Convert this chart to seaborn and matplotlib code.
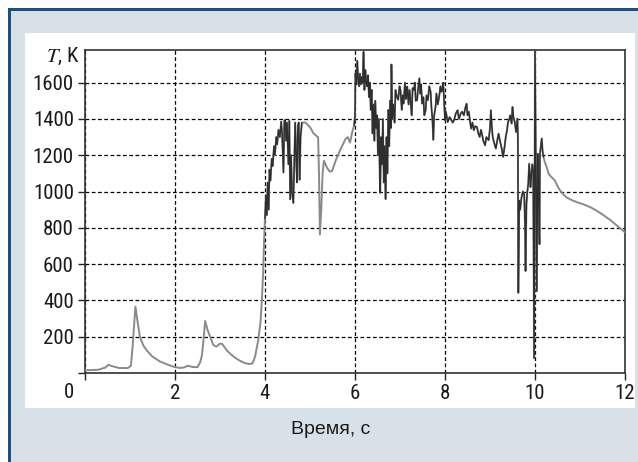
import matplotlib
matplotlib.use("Agg")
import matplotlib.pyplot as plt
import seaborn as sns
import pandas as pd
from matplotlib.patches import Rectangle

# ---- data ----
time_s = [
    0.00, 0.30, 0.45, 0.52, 0.60, 0.75, 0.95, 1.02, 1.06, 1.12, 1.17, 1.22, 1.30, 1.37, 1.50, 1.67, 1.85, 1.96,
    2.10, 2.20, 2.28, 2.40, 2.50, 2.56, 2.60, 2.64, 2.67, 2.72, 2.78, 2.85, 2.92, 3.00, 3.05, 3.15, 3.22, 3.33,
    3.44, 3.55, 3.63, 3.72, 3.78, 3.85, 3.90, 3.93, 3.96, 3.98,
    4.00, 4.02, 4.04, 4.06, 4.08, 4.10, 4.12, 4.15, 4.17, 4.20, 4.22, 4.25, 4.27, 4.30, 4.33, 4.36, 4.38, 4.41,
    4.43, 4.45, 4.47, 4.49, 4.52, 4.54, 4.56, 4.58, 4.60, 4.63, 4.65, 4.67, 4.69, 4.71, 4.73, 4.75, 4.77, 4.79,
    4.82, 4.90, 5.00, 5.08, 5.15, 5.18, 5.20, 5.22, 5.25, 5.28, 5.31, 5.38, 5.44, 5.49, 5.57, 5.62, 5.68, 5.73,
    5.79, 5.84, 5.89, 5.94, 5.98,
    6.00, 6.01, 6.03, 6.05, 6.07, 6.09, 6.11, 6.13, 6.15, 6.17, 6.19, 6.21, 6.23, 6.25, 6.27, 6.29, 6.31, 6.33,
    6.35, 6.37, 6.39, 6.41, 6.43, 6.45, 6.47, 6.49, 6.51, 6.53, 6.55, 6.56, 6.58, 6.60, 6.62, 6.64, 6.66, 6.68,
    6.70, 6.72, 6.74, 6.76, 6.78, 6.80, 6.81, 6.83, 6.85, 6.88, 6.90, 6.93, 6.96, 6.99, 7.01, 7.04, 7.06, 7.08,
    7.11, 7.13, 7.15, 7.16, 7.19, 7.21, 7.23, 7.26, 7.28, 7.31, 7.33, 7.35, 7.38, 7.40, 7.43, 7.45, 7.47, 7.49,
    7.52, 7.54, 7.57, 7.59, 7.62, 7.65, 7.68, 7.70, 7.72, 7.74, 7.76, 7.79, 7.81, 7.84, 7.87, 7.90, 7.92, 7.94,
    7.96, 7.98, 8.00,
    8.02, 8.06, 8.10, 8.13, 8.17, 8.20, 8.24, 8.28, 8.31, 8.35, 8.38, 8.42, 8.45, 8.48, 8.50, 8.53, 8.56, 8.58,
    8.61, 8.64, 8.67, 8.71, 8.74, 8.77, 8.80, 8.82, 8.85, 8.89, 8.92, 8.97, 9.00, 9.02, 9.04, 9.06, 9.09, 9.13,
    9.16, 9.19, 9.22, 9.26, 9.29, 9.32, 9.35, 9.38, 9.40, 9.43, 9.45, 9.48, 9.50, 9.52, 9.55, 9.58, 9.61, 9.62,
    9.63, 9.65, 9.67, 9.70, 9.73, 9.76, 9.78, 9.79, 9.81, 9.83, 9.85, 9.87, 9.90, 9.92, 9.94, 9.96, 9.98,
    10.00, 10.02, 10.04, 10.06, 10.08, 10.10, 10.11, 10.13, 10.15, 10.17, 10.19, 10.22, 10.26, 10.30, 10.33,
    10.37, 10.44, 10.50, 10.56, 10.63, 10.70, 10.80, 10.93, 11.05, 11.15, 11.26, 11.37, 11.48, 11.59, 11.69,
    11.78, 11.87, 11.96, 12.00,
]
temp_K = [
    15, 18, 30, 45, 38, 28, 27, 40, 150, 366, 280, 200, 150, 125, 90, 63, 45, 35,
    28, 30, 40, 33, 32, 60, 100, 200, 287, 240, 200, 155, 145, 162, 160, 125, 108, 85,
    68, 55, 50, 52, 90, 182, 280, 400, 560, 734,
    850, 980, 870, 1050, 900, 1120, 1060, 1180, 1140, 1250, 1200, 1300, 1260, 1340, 1300, 1385, 1320, 1105,
    1390, 1395, 1280, 1380, 1150, 1390, 957, 1200, 1000, 937, 1150, 1380, 1200, 1050, 1360, 1380, 1065, 1300,
    1380, 1380, 1355, 1320, 1305, 1300, 1100, 764, 900, 1100, 1170, 1130, 1110, 1113, 1170, 1200, 1234, 1260,
    1290, 1300, 1270, 1330, 1363,
    1420, 1650, 1590, 1720, 1620, 1580, 1650, 1590, 1630, 1600, 1770, 1560, 1670, 1600, 1580, 1640, 1520, 1600,
    1450, 1560, 1320, 1480, 1280, 1500, 1350, 1420, 1200, 1400, 1100, 993, 1300, 1150, 1400, 1050, 1250, 958,
    1300, 1100, 1450, 1250, 1500, 1350, 1700, 1400, 1480, 1380, 1560, 1522, 1506, 1580, 1560, 1450, 1530, 1485,
    1600, 1510, 1535, 1578, 1480, 1560, 1513, 1420, 1570, 1560, 1600, 1500, 1504, 1560, 1624, 1540, 1590, 1485,
    1520, 1420, 1448, 1530, 1504, 1580, 1550, 1460, 1400, 1285, 1420, 1467, 1540, 1480, 1522, 1580, 1550, 1560,
    1600, 1500, 1393,
    1440, 1383, 1410, 1400, 1380, 1393, 1430, 1448, 1400, 1430, 1440, 1420, 1460, 1484, 1420, 1440, 1380, 1347,
    1380, 1338, 1360, 1356, 1320, 1301, 1340, 1319, 1280, 1255, 1300, 1283, 1350, 1448, 1360, 1301, 1270, 1237,
    1280, 1319, 1282, 1237, 1191, 1240, 1301, 1340, 1383, 1400, 1420, 1375, 1466, 1412, 1383, 1328, 1402, 1300,
    442, 950, 900, 968, 1000, 987, 800, 562, 932, 1000, 1042, 1153, 1024, 1098, 1150, 1116, 82,
    1781, 1100, 451, 1208, 1000, 710, 1208, 1250, 1292, 1220, 1190, 1160, 1135, 1100, 1089,
    1079, 1061, 1030, 1005, 985, 968, 955, 941, 932, 922, 910, 894, 877, 858, 840,
    821, 802, 784, 775,
]
x_ticks = [0, 2, 4, 6, 8, 10, 12]
x_tick_labels = ["", "2", "4", "6", "8", "10", "12"]
corner_label = "0"
y_ticks = [0, 200, 400, 600, 800, 1000, 1200, 1400, 1600]
y_tick_labels = ["", "200", "400", "600", "800", "1000", "1200", "1400", "1600"]
x_label = "Время, с"
y_label = r"$T$, K"
noisy_spans = [(4.0, 4.82), (5.98, 10.2)]

df = pd.DataFrame({"t": time_s, "T": temp_K})

# ---- style ----
sns.set_theme(style="white")
NARROW = ["Roboto Condensed", "PT Sans Narrow", "DejaVu Sans"]
plt.rcParams["font.family"] = NARROW
plt.rcParams["mathtext.fontset"] = "stix"

W, H = 638, 462
BG = "#d8e0e8"
TXT = "#1a1a1a"
fig = plt.figure(figsize=(W / 100, H / 100), dpi=100, facecolor=BG)


def box(x0, y0, x1, y1):
    return (x0 / W, 1 - y1 / H), (x1 - x0) / W, (y1 - y0) / H


def add_rect(x0, y0, x1, y1, color, z):
    xy, w, h = box(x0, y0, x1, y1)
    fig.add_artist(Rectangle(xy, w, h, transform=fig.transFigure, facecolor=color,
                             edgecolor="none", zorder=z))


add_rect(0, 0, W, 7.5, "white", -20)
add_rect(0, 0, 7.5, H, "white", -20)
add_rect(7.5, 7.5, W, 10.5, "#1e4f82", -19)
add_rect(7.5, 7.5, 10.5, H, "#1e4f82", -19)
add_rect(25, 33, 635, 408, "white", -18)

xy, w, h = box(85, 50, 625, 373)
ax = fig.add_axes([xy[0], xy[1], w, h])
ax.set_facecolor("white")

sns.lineplot(data=df, x="t", y="T", ax=ax, color="#8a8a8a", lw=1.4,
             sort=False, estimator=None, zorder=3)
for a, b in noisy_spans:
    seg = df[(df["t"] >= a) & (df["t"] <= b)]
    sns.lineplot(data=seg, x="t", y="T", ax=ax, color="#2e2e2e", lw=1.0,
                 sort=False, estimator=None, zorder=4)

ax.set_xlim(0, 12)
ax.set_ylim(0, 1780)
ax.set_xticks(x_ticks)
ax.set_xticklabels(x_tick_labels)
ax.set_yticks(y_ticks)
ax.set_yticklabels(y_tick_labels)
ax.set_xlabel("")
ax.set_ylabel("")
ax.tick_params(axis="both", which="major", direction="out", length=5, width=1,
               color="#222222", labelcolor=TXT, labelsize=15,
               bottom=True, left=True)
ax.tick_params(axis="x", pad=3)
ax.tick_params(axis="y", pad=3)
ax.grid(True, linestyle=(0, (3, 2)), color="black", linewidth=0.9)
for s in ax.spines.values():
    s.set_visible(True)
    s.set_color("#333333")
    s.set_linewidth(1.2)

fig.text(69 / W, 1 - 393 / H, corner_label, ha="center", va="center",
         fontsize=15, color=TXT)
fig.text(80 / W, 1 - 56 / H, y_label, ha="right", va="center",
         fontsize=15, color=TXT)
fig.text(331 / W, 1 - 429 / H, x_label, ha="center", va="center",
         fontsize=14, color=TXT, family=["Liberation Sans", "DejaVu Sans"])

fig.savefig("out.png", dpi=100, facecolor=BG)
